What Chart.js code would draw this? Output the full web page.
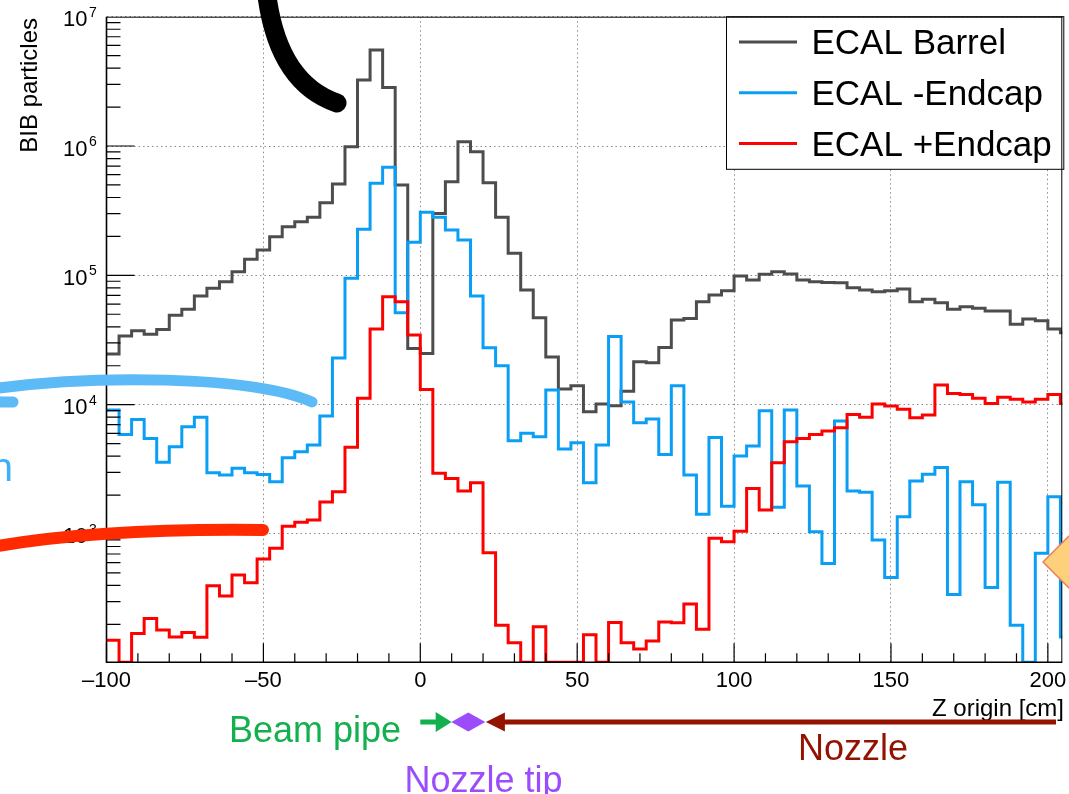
<!DOCTYPE html>
<html>
<head>
<meta charset="utf-8">
<title>BIB particles vs Z origin</title>
<script src="https://cdn.jsdelivr.net/npm/chart.js@4/dist/chart.umd.min.js"></script>
<style>
  html, body { margin: 0; padding: 0; background: #fff; }
  canvas { display: block; }
</style>
</head>
<body>
<canvas id="chart" width="1069" height="794"></canvas>
<script>
// ---- histogram binning (Z origin, cm) ----
const binLow = -100;
const binWidth = 4;
const xMin = -100;
const xMax = 204.6;
const yMin = 101.8;
const yMax = 1e7;

// ---- bin contents, BIB particles per 4 cm bin ----
const barrel = [
  24600, 34000, 37300, 35000, 38200, 49100, 54600, 69200, 79300, 89200,
  106600, 133000, 157000, 199000, 237600, 260000, 280900, 364000, 508000, 988000,
  3240000, 5520000, 2840000, 499000, 27200, 24900, 301000, 530000, 1080000, 903000,
  520000, 281000, 148000, 76900, 47000, 23400, 13200, 14000, 8820, 10100,
  9820, 12700, 21500, 21100, 27700, 45100, 46400, 62500, 70500, 76100,
  98800, 92000, 101800, 106600, 102300, 92000, 89200, 88200, 87700, 80200,
  76900, 74600, 76100, 78300, 62500, 65200, 61400, 54600, 57100, 55600,
  53000, 53000, 41800, 45900, 44600, 38500, 36000
];
const endcapMinus = [
  9080, 5890, 7690, 5480, 3580, 4720, 6740, 7980, 2970, 2860,
  3220, 2970, 2890, 2530, 3880, 4320, 4870, 8170, 23000, 94900,
  227000, 515000, 684000, 51400, 180000, 307000, 281000, 224000, 188000, 69200,
  27500, 20000, 5260, 6000, 5650, 13000, 4540, 5080, 2490, 4870,
  33600, 10500, 7240, 7740, 4120, 14000, 2860, 1420, 5580, 1640,
  4010, 4790, 8980, 1610, 9080, 2350, 1040, 592, 7460, 2150,
  2100, 897, 461, 1360, 2570, 2900, 3270, 341, 2530, 1680,
  386, 2510, 197, 0, 709, 1940, 160
];
const endcapPlus = [
  151, 0, 170, 222, 181, 160, 173, 159, 397, 331,
  481, 420, 640, 774, 1150, 1230, 1280, 1770, 2120, 4680,
  11200, 38500, 68400, 62500, 34500, 13100, 2950, 2690, 2150, 2490,
  716, 197, 144, 0, 192, 0, 0, 0, 166, 0,
  207, 144, 129, 149, 209, 206, 287, 183, 925, 871,
  1050, 2250, 1530, 3560, 5170, 5480, 5890, 6250, 6630, 8410,
  7980, 10100, 9750, 9200, 7930, 8320, 14200, 12200, 12000, 11200,
  10200, 11400, 11000, 10500, 11000, 12000, 10200
];

const seriesNames = ['ECAL Barrel', 'ECAL -Endcap', 'ECAL +Endcap'];
const seriesColors = ['#4d4d4d', '#0a9ff5', '#ff0000'];

// axis ticks
const xLabelTicks = [-100, -50, 0, 50, 100, 150, 200];
const xGridTicks = [-50, 0, 50, 100, 150, 200];
const yDecades = [3, 4, 5, 6, 7];

// detector regions along z (cm)
const beamPipe = { from: 0, to: 10 };
const nozzleTip = 15.3;
const nozzle = { from: 20.9, to: 202.6 };

// one point per bin low edge plus the closing edge; empty bins sit on the axis
function histPoints(values) {
  const pts = values.map((v, i) => ({ x: binLow + i * binWidth, y: v > 0 ? v : yMin }));
  pts.push({ x: binLow + values.length * binWidth, y: pts[pts.length - 1].y });
  return pts;
}

const FONT = '"Liberation Sans", Arial, Helvetica, sans-serif';
Chart.defaults.font.family = FONT;

const rootFrame = {
  id: 'rootFrame',
  afterDraw(chart) {
    const { ctx, chartArea: a, scales: { x, y } } = chart;
    ctx.save();

    // legend box
    const lg = { l: 726, t: 16.7, r: 1063.3, b: 169.3 };
    ctx.fillStyle = '#fff';
    ctx.fillRect(lg.l, lg.t, lg.r - lg.l, lg.b - lg.t);
    ctx.strokeStyle = '#000';
    ctx.lineWidth = 1;
    ctx.strokeRect(lg.l + 0.5, lg.t, lg.r - lg.l, lg.b - lg.t);
    ctx.font = '35px ' + FONT;
    ctx.textAlign = 'left';
    ctx.textBaseline = 'alphabetic';
    seriesNames.forEach((name, i) => {
      const base = 54 + i * 50.8;
      ctx.strokeStyle = seriesColors[i];
      ctx.lineWidth = 3;
      ctx.beginPath();
      ctx.moveTo(739, base - 12);
      ctx.lineTo(797, base - 12);
      ctx.stroke();
      ctx.fillStyle = '#000';
      ctx.fillText(name, 811.5, base);
    });

    // frame
    ctx.strokeStyle = '#000';
    ctx.lineWidth = 1;
    ctx.beginPath();
    ctx.moveTo(a.left, a.top + 0.5);
    ctx.lineTo(a.right, a.top + 0.5);
    ctx.moveTo(a.right - 0.5, a.top);
    ctx.lineTo(a.right - 0.5, a.bottom);
    ctx.stroke();
    ctx.lineWidth = 1.6;
    ctx.beginPath();
    ctx.moveTo(a.left, a.top);
    ctx.lineTo(a.left, a.bottom);
    ctx.lineTo(a.right, a.bottom);
    ctx.stroke();

    // y ticks (inside), log minor ticks
    ctx.lineWidth = 1.2;
    ctx.beginPath();
    for (let d = 2; d <= 6; d++) {
      for (let m = 1; m <= 9; m++) {
        const v = m * Math.pow(10, d);
        if (v < yMin || v > yMax) continue;
        const py = y.getPixelForValue(v);
        const len = m === 1 ? 28 : 14;
        ctx.moveTo(a.left, py);
        ctx.lineTo(a.left + len, py);
      }
    }
    // x ticks (inside)
    for (let v = -100; v <= 200; v += 10) {
      const px = x.getPixelForValue(v);
      const len = v % 50 === 0 ? 19 : 9;
      ctx.moveTo(px, a.bottom);
      ctx.lineTo(px, a.bottom - len);
    }
    ctx.stroke();

    // y tick labels 10^n
    ctx.fillStyle = '#000';
    yDecades.forEach(d => {
      const py = y.getPixelForValue(Math.pow(10, d));
      ctx.font = '22px ' + FONT;
      ctx.textAlign = 'right';
      ctx.fillText('10', 87.5, py + 9.5);
      ctx.font = '14px ' + FONT;
      ctx.textAlign = 'left';
      ctx.fillText(String(d), 89, py);
    });

    // x tick labels
    ctx.font = '22px ' + FONT;
    ctx.textAlign = 'center';
    xLabelTicks.forEach(v => {
      const label = v < 0 ? '\u2013' + Math.abs(v) : String(v);
      ctx.fillText(label, x.getPixelForValue(v), 687);
    });

    // axis titles
    ctx.font = '24px ' + FONT;
    ctx.textAlign = 'right';
    ctx.fillText('Z origin [cm]', 1064, 715.5);
    ctx.save();
    ctx.translate(36.5, 18);
    ctx.rotate(-Math.PI / 2);
    ctx.fillText('BIB particles', 0, 0);
    ctx.restore();

    // beam-line regions below the axis
    const ay = 722;
    const pBeam0 = x.getPixelForValue(beamPipe.from);
    const pBeam1 = x.getPixelForValue(beamPipe.to);
    ctx.strokeStyle = ctx.fillStyle = '#12b04f';
    ctx.lineWidth = 5;
    ctx.beginPath();
    ctx.moveTo(pBeam0, ay);
    ctx.lineTo(pBeam1 - 12, ay);
    ctx.stroke();
    ctx.beginPath();
    ctx.moveTo(pBeam1, ay);
    ctx.lineTo(pBeam1 - 16, ay - 10);
    ctx.lineTo(pBeam1 - 16, ay + 10);
    ctx.closePath();
    ctx.fill();
    ctx.font = '36px ' + FONT;
    ctx.textAlign = 'left';
    ctx.fillText('Beam pipe', 229, 741.5);

    const pTip = x.getPixelForValue(nozzleTip);
    ctx.fillStyle = '#9b4dfc';
    ctx.beginPath();
    ctx.moveTo(pTip - 17, ay);
    ctx.lineTo(pTip, ay - 9.5);
    ctx.lineTo(pTip + 17, ay);
    ctx.lineTo(pTip, ay + 9.5);
    ctx.closePath();
    ctx.fill();
    ctx.fillText('Nozzle tip', 404.5, 791.5);

    const pN0 = x.getPixelForValue(nozzle.from);
    const pN1 = x.getPixelForValue(nozzle.to);
    ctx.strokeStyle = ctx.fillStyle = '#931300';
    ctx.lineWidth = 5;
    ctx.beginPath();
    ctx.moveTo(pN0 + 12, ay);
    ctx.lineTo(pN1, ay);
    ctx.stroke();
    ctx.beginPath();
    ctx.moveTo(pN0, ay);
    ctx.lineTo(pN0 + 19, ay - 9.5);
    ctx.lineTo(pN0 + 19, ay + 9.5);
    ctx.closePath();
    ctx.fill();
    ctx.fillText('Nozzle', 798, 760);

    // hand-drawn markings on top
    ctx.lineCap = 'round';
    ctx.strokeStyle = '#000';
    ctx.lineWidth = 19;
    ctx.beginPath();
    ctx.moveTo(266, -12);
    ctx.quadraticCurveTo(276, 82, 337, 103);
    ctx.stroke();

    ctx.strokeStyle = '#5cbaf7';
    ctx.lineWidth = 11;
    ctx.beginPath();
    ctx.moveTo(-8, 389);
    ctx.bezierCurveTo(90, 375, 250, 375, 312, 402);
    ctx.stroke();
    ctx.beginPath();
    ctx.moveTo(-8, 402);
    ctx.lineTo(13, 402);
    ctx.stroke();
    ctx.fillStyle = '#3fb0f5';
    ctx.font = '40px ' + FONT;
    ctx.textAlign = 'right';
    ctx.fillText('n', 13, 481);

    ctx.strokeStyle = '#ff2a00';
    ctx.lineWidth = 12;
    ctx.beginPath();
    ctx.moveTo(-8, 547);
    ctx.quadraticCurveTo(100, 528, 263, 530);
    ctx.stroke();

    ctx.fillStyle = '#fdd17a';
    ctx.strokeStyle = '#f07a5a';
    ctx.lineWidth = 1.5;
    ctx.beginPath();
    ctx.moveTo(1043, 562);
    ctx.lineTo(1080, 525);
    ctx.lineTo(1117, 562);
    ctx.lineTo(1080, 599);
    ctx.closePath();
    ctx.fill();
    ctx.stroke();

    ctx.restore();
  }
};

const allSeries = [barrel, endcapMinus, endcapPlus];

new Chart(document.getElementById('chart'), {
  type: 'line',
  data: {
    datasets: allSeries.map((vals, i) => ({
      label: seriesNames[i],
      data: histPoints(vals),
      borderColor: seriesColors[i],
      borderWidth: 3,
      stepped: true,
      fill: false,
      pointRadius: 0,
      order: allSeries.length - i,
      borderJoinStyle: 'miter',
      borderCapStyle: 'butt'
    }))
  },
  options: {
    responsive: false,
    animation: false,
    devicePixelRatio: 1,
    layout: { padding: { left: 106.5, top: 16.7, right: 6.7, bottom: 131.7 } },
    plugins: { legend: { display: false }, tooltip: { enabled: false } },
    scales: {
      x: {
        type: 'linear',
        min: xMin,
        max: xMax,
        ticks: { display: false },
        grid: { drawTicks: false, color: '#8c8c8c', lineWidth: 1 },
        border: { display: false, dash: [1.5, 3] },
        afterBuildTicks: s => { s.ticks = xGridTicks.map(v => ({ value: v })); }
      },
      y: {
        type: 'logarithmic',
        min: yMin,
        max: yMax,
        ticks: { display: false },
        grid: { drawTicks: false, color: '#8c8c8c', lineWidth: 1 },
        border: { display: false, dash: [1.5, 3] },
        afterBuildTicks: s => { s.ticks = yDecades.map(d => ({ value: Math.pow(10, d) })); }
      }
    }
  },
  plugins: [rootFrame]
});
</script>
</body>
</html>
